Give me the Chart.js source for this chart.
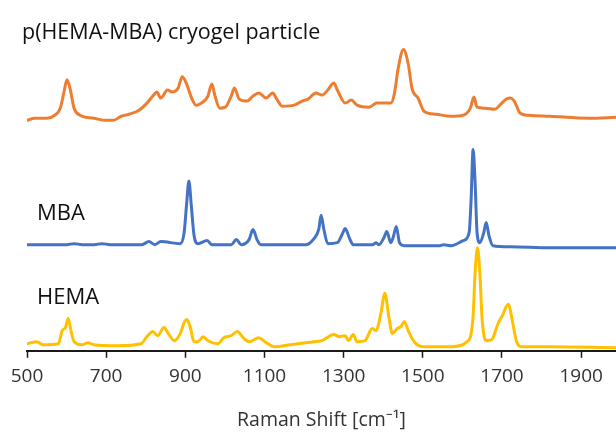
<!DOCTYPE html>
<html lang="en">
<head>
    <meta charset="UTF-8">
    <title>Raman spectra - p(HEMA-MBA) cryogel particle</title>
    <style>
        html, body { margin: 0; padding: 0; background: #ffffff; }
        canvas { display: block; }
    </style>
</head>
<body>
    <canvas id="ramanChart" width="616" height="432" role="img" aria-label="Raman spectra of p(HEMA-MBA) cryogel particle, MBA and HEMA"></canvas>

    <script src="https://cdn.jsdelivr.net/npm/chart.js@4.4.1/dist/chart.umd.min.js"></script>
    <script>
        // Raman shift (cm-1) and intensity (arb. units, own baseline ~0)
        var cryogelShift = [500, 520, 550, 570, 584, 594, 601, 609, 619, 634, 669, 699, 718, 738, 758, 783, 803, 818, 828, 838,
            855, 867, 882, 892, 902, 917, 927, 947, 957, 967, 975, 987, 1001, 1016, 1024, 1036, 1056, 1071, 1086, 1104,
            1121, 1131, 1145, 1175, 1195, 1210, 1230, 1245, 1260, 1275, 1284, 1304, 1319, 1334, 1364, 1384, 1399, 1419, 1428, 1438,
            1451, 1463, 1473, 1488, 1503, 1533, 1572, 1602, 1620, 1629, 1637, 1657, 1682, 1697, 1711, 1721, 1731, 1746, 1766, 1821,
            1920, 1988];
        var cryogelInt = [0, 2, 2, 5, 12, 29, 40, 31, 12, 5, 2, 0, 0, 4, 6, 10, 17, 24, 28, 22,
            30, 28, 32, 43, 37, 21, 15, 19, 24, 36, 24, 12, 13, 24, 32, 21, 19, 24, 27, 22,
            27, 21, 14, 15, 19, 21, 27, 25, 30, 37, 30, 17, 20, 15, 13, 17, 17, 17, 26, 52,
            70, 56, 31, 22, 9, 6, 4, 5, 12, 23, 13, 12, 11, 16, 21, 22, 19, 7, 5, 4,
            2, 3];

        var mbaShift = [500, 600, 619, 640, 670, 689, 710, 790, 808, 823, 838, 887, 897, 903, 909, 915, 922, 932, 955, 967, 1016, 1029,
            1041, 1061, 1071, 1081, 1091, 1205, 1225, 1237, 1243, 1250, 1260, 1284, 1296, 1304, 1314, 1324, 1374, 1382, 1389, 1402,
            1409, 1419, 1425, 1433, 1441, 1453, 1543, 1553, 1572, 1602, 1617, 1622, 1627, 1632, 1637, 1644, 1654, 1660, 1667, 1677,
            1721, 1821, 1988];
        var mbaInt = [0, 0, 1, 0, 0, 1, 0, 0, 3, 0, 3, 1, 12, 39, 63, 39, 9, 1, 4, 0, 0, 5,
            0, 5, 15, 5, 0, 0, 6, 15, 29, 15, 1, 2, 10, 16, 7, 0, 0, 2, 0, 7,
            13, 2, 7, 18, 2, -1, -1, 0, -1, 4, 12, 45, 94, 62, 12, 2, 12, 22, 9, -1,
            -2, -3, -3];

        var hemaShift = [500, 525, 540, 579, 589, 597, 604, 611, 619, 639, 654, 669, 728, 788, 803, 818, 830, 846, 857, 872,
            887, 897, 904, 912, 922, 932, 945, 957, 982, 997, 1016, 1031, 1046, 1061, 1086, 1101, 1126, 1165, 1225, 1245,
            1275, 1289, 1304, 1312, 1324, 1334, 1354, 1372, 1382, 1394, 1404, 1414, 1423, 1435, 1445, 1453, 1463, 1478, 1503, 1572,
            1612, 1627, 1632, 1638, 1644, 1650, 1660, 1674, 1690, 1701, 1716, 1726, 1736, 1751, 1821, 1988];
        var hemaInt = [0, 2, -1, 0, 13, 16, 25, 13, 2, -1, 1, -1, -2, 0, 7, 12, 8, 16, 10, 3,
            10, 21, 24, 17, 2, 2, 7, 3, 0, 6, 8, 12, 6, 2, 6, 2, -3, -1, 2, 3,
            9, 7, 8, 3, 9, 2, 3, 15, 13, 30, 50, 27, 10, 15, 17, 22, 13, 2, -3, -3,
            2, 27, 70, 95, 70, 23, 3, 4, 20, 28, 39, 23, 3, -3, -3, -4];

        // vertical offset of each spectrum (cryogel, MBA, HEMA)
        var offsets = [228, 105, 7];
        var xTicks = [500, 700, 900, 1100, 1300, 1500, 1700, 1900];

        function toPoints(xs, ys, off) {
            return xs.map(function (x, i) { return { x: x, y: ys[i] + off }; });
        }

        // names of the spectra, written inside the plot like in the original
        var spectrumLabels = {
            id: 'spectrumLabels',
            afterDraw: function (chart) {
                var ctx = chart.ctx;
                ctx.save();
                ctx.fillStyle = '#111111';
                ctx.textBaseline = 'alphabetic';
                ctx.textAlign = 'left';
                ctx.font = '21.5px "Open Sans"';
                ctx.fillText('p(HEMA-MBA) cryogel particle', 22, 39);
                ctx.font = '22px "Open Sans"';
                ctx.fillText('MBA', 37, 220);
                ctx.fillText('HEMA', 37, 304);
                ctx.restore();
            }
        };

        function line(label, data, color) {
            return {
                label: label,
                data: data,
                borderColor: color,
                backgroundColor: color,
                borderWidth: 3,
                pointRadius: 0,
                cubicInterpolationMode: 'monotone',
                borderJoinStyle: 'round',
                borderCapStyle: 'round',
                fill: false
            };
        }

        var ctx = document.getElementById('ramanChart').getContext('2d');
        var ramanChart = new Chart(ctx, {
            type: 'line',
            data: {
                datasets: [
                    line('p(HEMA-MBA) cryogel particle', toPoints(cryogelShift, cryogelInt, offsets[0]), '#ED7D31'),
                    line('MBA', toPoints(mbaShift, mbaInt, offsets[1]), '#4472C4'),
                    line('HEMA', toPoints(hemaShift, hemaInt, offsets[2]), '#FFC000')
                ]
            },
            options: {
                responsive: false,
                animation: false,
                devicePixelRatio: 1,
                layout: { padding: { left: 27, right: 0, top: 0, bottom: 0 } },
                plugins: {
                    legend: { display: false },
                    tooltip: { enabled: false }
                },
                scales: {
                    x: {
                        type: 'linear',
                        min: 500,
                        max: 1988,
                        afterBuildTicks: function (scale) {
                            scale.ticks = xTicks.map(function (v) { return { value: v }; });
                        },
                        ticks: {
                            color: '#333333',
                            padding: 7,
                            maxRotation: 0,
                            font: { family: 'Open Sans', size: 19 },
                            callback: function (value) { return String(value); }
                        },
                        grid: {
                            drawOnChartArea: false,
                            drawTicks: true,
                            tickLength: 7,
                            tickWidth: 1.5,
                            tickColor: '#1a1a1a'
                        },
                        border: { display: true, color: '#1a1a1a', width: 2 },
                        title: {
                            display: true,
                            text: 'Raman Shift [cm\u207B\u00B9]',
                            color: '#333333',
                            padding: { top: 14, bottom: 0 },
                            font: { family: 'Open Sans', size: 19.5 }
                        }
                    },
                    y: {
                        display: false,
                        min: 0,
                        max: 347
                    }
                }
            },
            plugins: [spectrumLabels]
        });
    </script>
</body>
</html>
